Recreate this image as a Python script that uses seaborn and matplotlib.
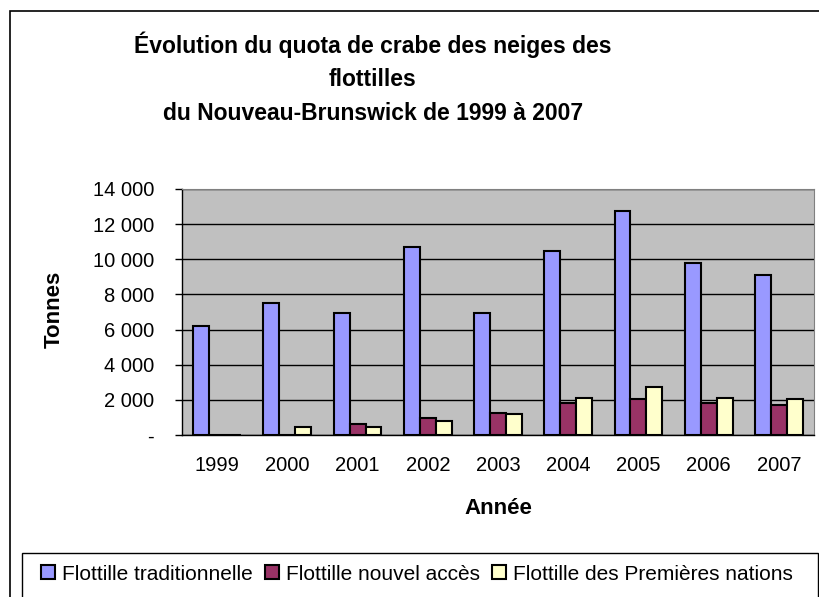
import matplotlib
matplotlib.use("Agg")
import matplotlib.pyplot as plt
import matplotlib.ticker as mticker
from matplotlib.patches import Rectangle
import seaborn as sns
import pandas as pd
import numpy as np

# data (tonnes)
annees = ["1999", "2000", "2001", "2002", "2003", "2004", "2005", "2006", "2007"]
traditionnelle = [6230, 7490, 6930, 10680, 6930, 10470, 12750, 9780, 9100]
nouvel_acces = [0, 0, 650, 990, 1230, 1800, 2030, 1800, 1690]
premieres_nations = [0, 440, 440, 800, 1220, 2130, 2720, 2130, 2030]
series = ["Flottille traditionnelle", "Flottille nouvel accès",
          "Flottille des Premières nations"]
couleurs = ["#9999FF", "#993366", "#FFFFCC"]

df = pd.DataFrame({
    "Année": annees * 3,
    "Tonnes": traditionnelle + nouvel_acces + premieres_nations,
    "Flottille": [s for s in series for _ in annees],
})

sns.set_style("white")
plt.rcParams["font.family"] = ["Liberation Sans", "DejaVu Sans"]
plt.rcParams["text.color"] = "black"
plt.rcParams["axes.labelcolor"] = "black"
plt.rcParams["xtick.color"] = "black"
plt.rcParams["ytick.color"] = "black"

fig = plt.figure(figsize=(8.2, 5.97), dpi=100)
ax = fig.add_axes([182/820, 1 - 435/597, (814-182)/820, (435-189)/597])

sns.barplot(data=df, x="Année", y="Tonnes", hue="Flottille", order=annees,
            hue_order=series, palette=couleurs, saturation=1,
            edgecolor="black", linewidth=1.5, width=0.68, ax=ax)

ax.set_facecolor("#C0C0C0")
ax.set_xlim(-0.5, len(annees) - 0.5)
ax.set_ylim(0, 14000)
ax.yaxis.set_major_locator(mticker.MultipleLocator(2000))
ax.yaxis.set_major_formatter(mticker.FuncFormatter(
    lambda v, p: "-" if v == 0 else f"{int(v):,}".replace(",", " ")))
ax.grid(axis="y", color="black", linewidth=1)
ax.set_axisbelow(True)

# ticks at category boundaries, labels at centres
ax.set_xticks(np.arange(-0.5, len(annees)), labels=[])
ax.set_xticks(np.arange(len(annees)), labels=annees, minor=True)
ax.tick_params(axis="x", which="major", length=6, width=1, direction="out")
ax.tick_params(axis="x", which="minor", length=0, pad=15, labelsize=14.5)
ax.tick_params(axis="y", length=5, width=1, direction="out", pad=15,
               labelsize=14.5, left=True)

for side in ["top", "right"]:
    ax.spines[side].set_color("#808080")
for side in ["left", "bottom"]:
    ax.spines[side].set_color("black")
    ax.spines[side].set_linewidth(1)

ax.set_xlabel("Année", fontsize=16, fontweight="bold")
ax.set_ylabel("Tonnes", fontsize=16, fontweight="bold")
ax.xaxis.set_label_coords(0.5, (435 - 508) / 246)
ax.xaxis.label.set_va("center")
ax.yaxis.set_label_coords((54 - 182) / 632, 0.5 + (312.5 - 310) / 246)
ax.yaxis.label.set_va("center")

titre = ["Évolution du quota de crabe des neiges des", "flottilles",
         "du Nouveau-Brunswick de 1999 à 2007"]
for ligne, y in zip(titre, [45, 80, 113]):
    fig.text(373/820, 1 - y/597, ligne, ha="center", va="center",
             fontsize=16.5, fontweight="bold")

# outer chart frame and legend box (run off the image edge)
fig.patches.append(Rectangle((10/820, -0.1), 1.2, 1 - 11/597 + 0.1,
                             transform=fig.transFigure, fill=False,
                             edgecolor="black", linewidth=1.2))
fig.patches.append(Rectangle((22/820, -0.1), (818-22)/820, 1 - 553/597 + 0.1,
                             transform=fig.transFigure, fill=False,
                             edgecolor="black", linewidth=1))

ax.legend(loc="center left", bbox_to_anchor=(41/820, 1 - 574/597),
          bbox_transform=fig.transFigure, ncol=3, frameon=False,
          fontsize=15, handlelength=0.65, handleheight=0.65,
          handletextpad=0.35, columnspacing=0.6, borderaxespad=0,
          borderpad=0)

fig.savefig("out.png", dpi=100)
